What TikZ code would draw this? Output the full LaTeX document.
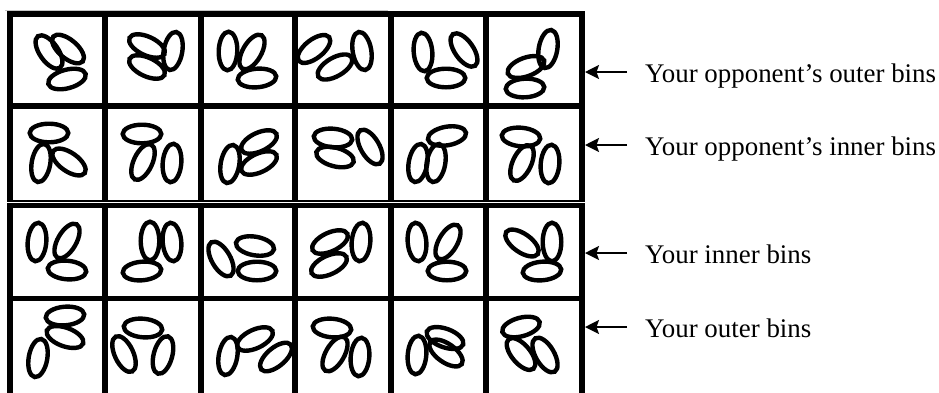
\documentclass[tikz,border=0pt]{standalone}
\usepackage{fontspec}
\setmainfont{Liberation Serif}
\usetikzlibrary{arrows.meta}
\newcommand\seedE[3]{\draw[seed, rotate around={#3:(#1,#2)}] (#1,#2) ellipse [x radius=19.3pt, y radius=9.3pt];}
\tikzset{
  seed/.style={line width=4.4pt},
  gridline/.style={line width=5.2pt},
  thinline/.style={line width=1.5pt},
  lbl/.style={anchor=west, inner xsep=18pt, inner ysep=0pt, text height=20pt, text depth=0pt,
    font=\fontsize{26.9pt}{30pt}\selectfont},
  arr/.style={line width=1.8pt, -{Stealth[length=14pt,width=14pt,inset=2.5pt]}}
}
\begin{document}
\begin{tikzpicture}[x=1pt,y=-1pt]
\useasboundingbox (0,0) rectangle (939,392);
% faint top line
\draw[gray!45, line width=0.8pt] (5,10) -- (388,10);
% top block
\foreach \x in {10,105,201,295,391,486,582} \draw[gridline] (\x,11.4) -- (\x,201);
\draw[gridline] (7.4,14) -- (584.6,14);
\draw[gridline] (7.4,106) -- (584.6,106);
\draw[thinline] (7.4,201) -- (584.6,201);
% bottom block
\foreach \x in {10,105,201,295,391,486,582} \draw[gridline] (\x,203) -- (\x,396);
\draw[gridline] (7.4,205.5) -- (584.6,205.5);
\draw[gridline] (7.4,298.5) -- (584.6,298.5);
% row 1
\seedE{49}{52}{-55}\seedE{68}{49}{-40}\seedE{67}{79}{15}
\seedE{147}{46}{-25}\seedE{147}{67}{-25}\seedE{173}{51}{80}
\seedE{228}{51}{88}\seedE{252}{52}{60}\seedE{257}{78}{5}
\seedE{314}{49}{38}\seedE{335}{67}{30}\seedE{362}{51}{100}
\seedE{423}{52}{95}\seedE{464}{50}{-55}\seedE{446}{78}{0}
\seedE{548}{49}{80}\seedE{526}{67}{20}\seedE{525}{88}{3}
% row 2
\seedE{49}{133}{0}\seedE{41}{163}{80}\seedE{69}{162}{-35}
\seedE{142}{134}{0}\seedE{143}{162}{65}\seedE{172}{163}{85}
\seedE{230}{164}{80}\seedE{259}{142}{25}\seedE{259}{163}{25}
\seedE{333}{138}{-5}\seedE{335}{157}{-15}\seedE{370}{147}{-60}
\seedE{447}{136}{10}\seedE{418}{163}{80}\seedE{436}{163}{80}
\seedE{521}{137}{-5}\seedE{522}{163}{65}\seedE{550}{164}{85}
% row 3
\seedE{37}{242}{85}\seedE{67}{241}{60}\seedE{67}{270}{-5}
\seedE{150}{241}{90}\seedE{172}{242}{95}\seedE{142}{271}{5}
\seedE{221}{259}{-60}\seedE{255}{246}{-10}\seedE{257}{271}{0}
\seedE{330}{242}{25}\seedE{329}{265}{25}\seedE{361}{242}{85}
\seedE{417}{242}{95}\seedE{448}{242}{60}\seedE{447}{271}{0}
\seedE{522}{243}{-35}\seedE{552}{242}{90}\seedE{542}{271}{5}
% row 4
\seedE{65}{316}{5}\seedE{65}{337}{-20}\seedE{38}{358}{80}
\seedE{143}{328}{-5}\seedE{124}{354}{-65}\seedE{163}{355}{75}
\seedE{228}{356}{80}\seedE{255}{339}{25}\seedE{276}{357}{40}
\seedE{332}{328}{-5}\seedE{335}{354}{60}\seedE{360}{357}{85}
\seedE{417}{355}{85}\seedE{445}{338}{-20}\seedE{446}{353}{-35}
\seedE{521}{327}{15}\seedE{521}{354}{-50}\seedE{545}{355}{-60}
% labels and arrows
\coordinate (boardE) at (585,0);
\node[lbl] (l1) at (627,72) {Your opponent’s outer bins};
\node[lbl] (l2) at (627,145) {Your opponent’s inner bins};
\node[lbl] (l3) at (627,253) {Your inner bins};
\node[lbl] (l4) at (627,327) {Your outer bins};
\foreach \n in {l1,l2,l3,l4} \draw[arr] (\n.west) -- (\n.west -| boardE);
\end{tikzpicture}
\end{document}
